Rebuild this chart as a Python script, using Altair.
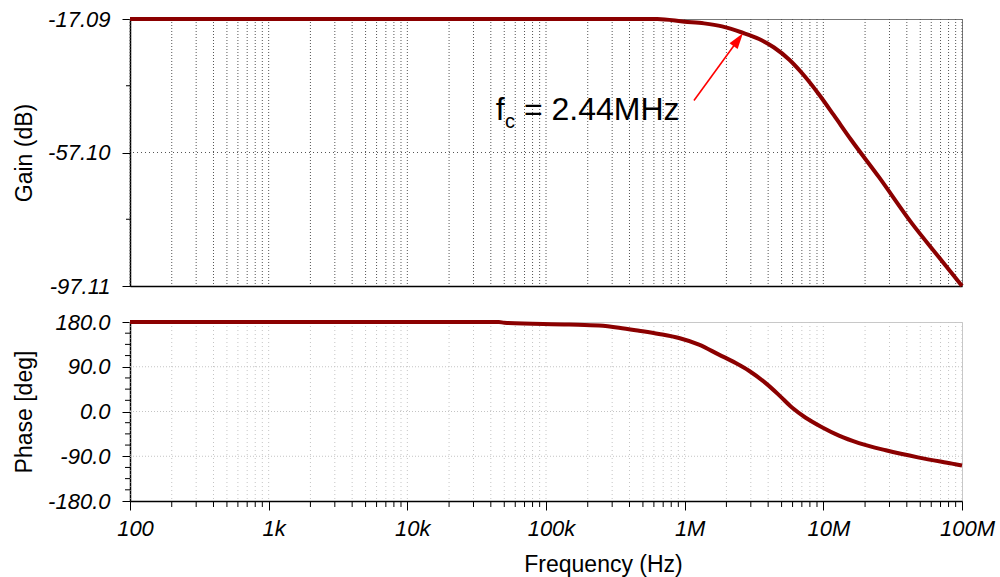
import altair as alt
import pandas as pd

# ---------------- data ----------------
gain_freq_hz = [100, 1000, 10000, 100000, 635000, 1000000, 1380000, 1860000,
                2590000, 3440000, 4410000, 5660000, 7260000, 9310000,
                11940000, 15800000, 25200000, 43800000, 68200000, 100000000]
gain_db = [-17.09, -17.09, -17.09, -17.09, -17.09, -17.9, -18.4, -19.3,
           -21.14, -23.08, -25.63, -29.22, -34.02, -39.71,
           -46.0, -53.2, -64.5, -78.5, -88.5, -97.11]

phase_freq_hz = [100, 1000, 10000, 45700, 50000, 146600, 241000, 335700,
                 468800, 653100, 909900, 1268000, 1766000, 2333000, 2910000,
                 3840000, 4790000, 5940000, 7460000, 9780000, 12970000,
                 18070000, 28200000, 49000000, 84700000, 100000000]
phase_deg = [180, 180, 180, 180, 178.5, 175, 172.8, 168.5,
             162.5, 156, 147.8, 134.5, 114.4, 97.6, 82,
             57, 33, 8, -12.5, -31.5, -48.5,
             -63.5, -78, -92.7, -104.8, -108.5]

# axes / ticks
decades = [100, 1000, 10000, 100000, 1000000, 10000000, 100000000]
decade_labels = ["100", "1k", "10k", "100k", "1M", "10M", "100M"]
minor_mult = [2, 3, 4, 5, 6, 7, 8, 9]
minor_freqs = [m * d for d in decades[:-1] for m in minor_mult]
all_grid_freqs = decades + minor_freqs

gain_ticks = [-17.09, -57.10, -97.11]
gain_minor = [-37.095, -77.105]
phase_ticks = [180, 90, 0, -90, -180]
phase_minor = [157.5, 135, 112.5, 67.5, 45, 22.5, -22.5, -45, -67.5,
               -112.5, -135, -157.5]

# annotation
ann_text = ["f", "c", "= 2.44MHz"]
ann_freq = [43500, 50600, 69300]
ann_gain = [-47.5, -49.9, -47.5]
ann_size = [32, 20, 32]
arrow_tail = (1167000, -41.5)
arrow_head = (2388000, -23.77)

FONT = "Liberation Sans"
LINE = "#8B0000"
W = 832

gain_df = pd.DataFrame({"f": gain_freq_hz, "g": gain_db})
phase_df = pd.DataFrame({"f": phase_freq_hz, "p": phase_deg})
grid_df = pd.DataFrame({"f": all_grid_freqs})
minor_df = pd.DataFrame({"f": minor_freqs})
gminor_df = pd.DataFrame({"g": gain_minor})
pminor_df = pd.DataFrame({"p": phase_minor})
ann_df = pd.DataFrame({"t": ann_text, "f": ann_freq, "g": ann_gain, "s": ann_size})
arrow_df = pd.DataFrame({"f": [arrow_tail[0]], "g": [arrow_tail[1]],
                         "f2": [arrow_head[0]], "g2": [arrow_head[1]]})

xscale = alt.Scale(type="log", domain=[100, 100000000], nice=False)
gscale = alt.Scale(domain=[-97.11, -17.09], nice=False, zero=False)
pscale = alt.Scale(domain=[-180, 180], nice=False, zero=False)

label_expr = "[" + ",".join("'%s'" % s for s in decade_labels) + "][indexof([" + \
    ",".join(str(d) for d in decades) + "], datum.value)]"
gain_label_expr = "replace(format(datum.value, '.2f'), '\u2212', '-')"
phase_label_expr = "replace(format(datum.value, '.1f'), '\u2212', '-')"

# ---------------- top panel: gain ----------------
g_vgrid = alt.Chart(grid_df).mark_rule(color="#555", strokeDash=[1, 2], strokeWidth=1).encode(
    x=alt.X("f:Q", scale=xscale,
            axis=alt.Axis(title=None, labels=False, ticks=False, grid=False,
                          domainColor="black", domainWidth=1.5)))
g_hgrid = alt.Chart(pd.DataFrame({"g": [-57.10]})).mark_rule(
    color="#555", strokeDash=[1, 3], strokeWidth=1).encode(y=alt.Y("g:Q", scale=gscale))
g_minor = alt.Chart(gminor_df).mark_rule(color="black", strokeWidth=1).encode(
    y=alt.Y("g:Q", scale=gscale), x=alt.value(-4), x2=alt.value(0))
g_line = alt.Chart(gain_df).mark_line(color=LINE, strokeWidth=4, interpolate="monotone").encode(
    x=alt.X("f:Q", scale=xscale),
    y=alt.Y("g:Q", scale=gscale,
            axis=alt.Axis(title="Gain (dB)", values=gain_ticks, labelExpr=gain_label_expr,
                          tickSize=8, tickColor="black", labelPadding=12,
                          domainColor="black", domainWidth=1.5, grid=False,
                          titleX=-106, titleBaseline="middle")))
g_arrow = alt.Chart(arrow_df).mark_rule(color="#FF0000", strokeWidth=1.6).encode(
    x=alt.X("f:Q", scale=xscale), y=alt.Y("g:Q", scale=gscale), x2="f2:Q", y2="g2:Q")
g_head = alt.Chart(arrow_df).mark_point(
    shape="M0,-1L0.5,0.6L-0.5,0.6Z", filled=True, color="#FF0000", opacity=1,
    size=400, angle=36, strokeWidth=0).encode(
    x=alt.X("f2:Q", scale=xscale), y=alt.Y("g2:Q", scale=gscale))
g_text = alt.Chart(ann_df).mark_text(align="left", baseline="alphabetic", font=FONT,
                                     color="black").encode(
    x=alt.X("f:Q", scale=xscale), y=alt.Y("g:Q", scale=gscale),
    text="t:N", size=alt.Size("s:Q", scale=None, legend=None))

top = alt.layer(g_vgrid, g_hgrid, g_minor, g_line, g_arrow, g_head, g_text).properties(
    width=W, height=267, view=alt.ViewBackground(stroke="#777", strokeWidth=1))

# ---------------- bottom panel: phase ----------------
p_vgrid = alt.Chart(grid_df).mark_rule(color="#c4c4c4", strokeDash=[1, 3], strokeWidth=1).encode(
    x=alt.X("f:Q", scale=xscale))
p_hgrid = alt.Chart(pd.DataFrame({"p": [90, 0, -90]})).mark_rule(
    color="#c4c4c4", strokeDash=[1, 2], strokeWidth=1).encode(y=alt.Y("p:Q", scale=pscale))
p_yminor = alt.Chart(pminor_df).mark_rule(color="black", strokeWidth=1).encode(
    y=alt.Y("p:Q", scale=pscale), x=alt.value(-5), x2=alt.value(0))
p_xminor = alt.Chart(minor_df).mark_rule(color="black", strokeWidth=1).encode(
    x=alt.X("f:Q", scale=xscale), y=alt.value(179), y2=alt.value(185))
p_line = alt.Chart(phase_df).mark_line(color=LINE, strokeWidth=4, interpolate="monotone").encode(
    x=alt.X("f:Q", scale=xscale,
            axis=alt.Axis(title="Frequency (Hz)", values=decades, labelExpr=label_expr,
                          tickSize=9, tickColor="black", labelPadding=8, labelOffset=5,
                          labelFlush=False,
                          domainColor="black", domainWidth=1.5, grid=False,
                          titleX=473, titleY=52, titleBaseline="top")),
    y=alt.Y("p:Q", scale=pscale,
            axis=alt.Axis(title="Phase [deg]", values=phase_ticks, labelExpr=phase_label_expr,
                          tickSize=8, tickColor="black", labelPadding=12,
                          domainColor="black", domainWidth=1.5, grid=False,
                          titleX=-106, titleBaseline="middle")))

bottom = alt.layer(p_vgrid, p_hgrid, p_yminor, p_xminor, p_line).properties(
    width=W, height=179, view=alt.ViewBackground(stroke="#c8c8c8", strokeWidth=1))

chart = alt.vconcat(top, bottom, spacing=12).properties(
    padding={"left": 12, "top": 7, "right": 2, "bottom": 2},
    background="white",
).configure_axis(
    labelFont=FONT, titleFont=FONT, labelFontSize=22, titleFontSize=23,
    labelFontStyle="italic", labelColor="black", titleColor="black",
    titleFontWeight="normal",
).configure_view(stroke="#c8c8c8")

chart.save("out.html", embed_options={"renderer": "svg", "actions": False})
